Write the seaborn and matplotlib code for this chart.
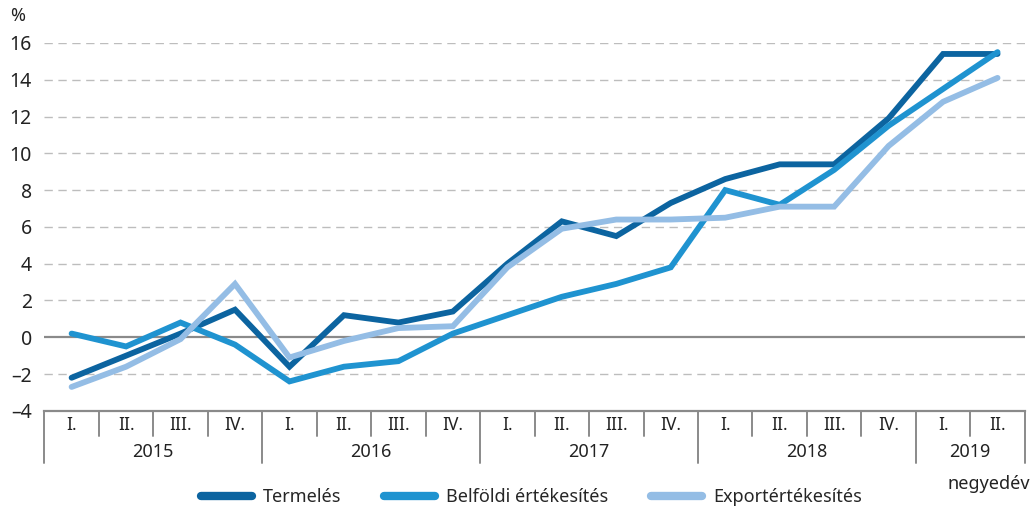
# Ipari termelés és értékesítés, negyedéves növekedés
import numpy as np
import pandas as pd
import matplotlib
matplotlib.use('Agg')
import matplotlib.pyplot as plt
import seaborn as sns

sns.set_style('white')
plt.rcParams['font.family'] = ['Noto Sans', 'DejaVu Sans']

# Data
years = ['2015', '2016', '2017', '2018', '2019']
quarters = ['I.', 'II.', 'III.', 'IV.',
            'I.', 'II.', 'III.', 'IV.',
            'I.', 'II.', 'III.', 'IV.',
            'I.', 'II.', 'III.', 'IV.',
            'I.', 'II.']
termeles = [-2.2, -1.0, 0.2, 1.5, -1.6, 1.2, 0.8, 1.4, 4.0, 6.3, 5.5, 7.3,
            8.6, 9.4, 9.4, 11.9, 15.4, 15.4]
belfoldi = [0.2, -0.5, 0.8, -0.4, -2.4, -1.6, -1.3, 0.2, 1.2, 2.2, 2.9, 3.8,
            8.0, 7.2, 9.1, 11.5, 13.5, 15.5]
export = [-2.7, -1.6, -0.1, 2.9, -1.1, -0.2, 0.5, 0.6, 3.8, 5.9, 6.4, 6.4,
          6.5, 7.1, 7.1, 10.4, 12.8, 14.1]
series_names = ['Termelés', 'Belföldi értékesítés', 'Exportértékesítés']
colors = ['#0C64A0', '#1F93D0', '#94BDE5']

n = len(quarters)
df = pd.DataFrame({
    'x': list(range(n)) * 3,
    'value': termeles + belfoldi + export,
    'series': [s for s in series_names for _ in range(n)],
})

fig = plt.figure(figsize=(10.32, 5.11), dpi=100)
ax = fig.add_axes([0.043, 0.196, 0.950, 0.720])

# Grid
for v in range(-2, 17, 2):
    if v == 0:
        continue
    ax.axhline(v, color='#bdbdbd', lw=1, ls=(0, (6, 4)), zorder=0)
ax.axhline(0, color='#8a8a8a', lw=1.6, zorder=1)

sns.lineplot(data=df, x='x', y='value', hue='series', palette=colors,
             hue_order=series_names, lw=4.2, ax=ax, legend=False,
             solid_capstyle='round', solid_joinstyle='miter', zorder=3)

ax.set_xlim(-0.5, n - 0.5)
ax.set_ylim(-4, 16)
ax.set_yticks(range(-4, 17, 2))
ax.set_yticklabels([str(v).replace('-', '\u2013') for v in range(-4, 17, 2)],
                   fontsize=14, color='#222222')
ax.tick_params(axis='y', length=0, pad=9)
ax.set_xticks([])
ax.set_xlabel('')
ax.set_ylabel('')
for s in ['left', 'right', 'top']:
    ax.spines[s].set_visible(False)
ax.spines['bottom'].set_color('#8a8a8a')
ax.spines['bottom'].set_linewidth(1.6)

# Category axis: quarters and years
trans = ax.get_xaxis_transform()
for i in range(n + 1):
    is_year = (i % 4 == 0) or i == n
    y_end = -0.142 if is_year else -0.068
    ax.plot([i - 0.5, i - 0.5], [0, y_end], color='#8a8a8a', lw=1.4,
            transform=trans, clip_on=False)
for i, q in enumerate(quarters):
    ax.text(i, -0.038, q, transform=trans, ha='center', va='center',
            fontsize=12.5, color='#222222')
for k, yr in enumerate(years):
    start = 4 * k
    end = min(start + 4, n)
    ax.text((start + end - 1) / 2, -0.112, yr, transform=trans, ha='center',
            va='center', fontsize=13, color='#222222')

fig.text(0.010, 0.968, '%', fontsize=13, color='#222222', va='center')
fig.text(0.998, 0.052, 'negyedév', fontsize=13, color='#222222',
         ha='right', va='center')

# Legend
handles = [plt.Line2D([0], [0], color=c, lw=6, solid_capstyle='round')
           for c in colors]
fig.legend(handles, series_names, loc='center', bbox_to_anchor=(0.515, 0.027),
           ncol=3, frameon=False, fontsize=13, handlelength=2.8,
           columnspacing=2.4, handletextpad=0.6)

fig.savefig('out.png', dpi=100)
